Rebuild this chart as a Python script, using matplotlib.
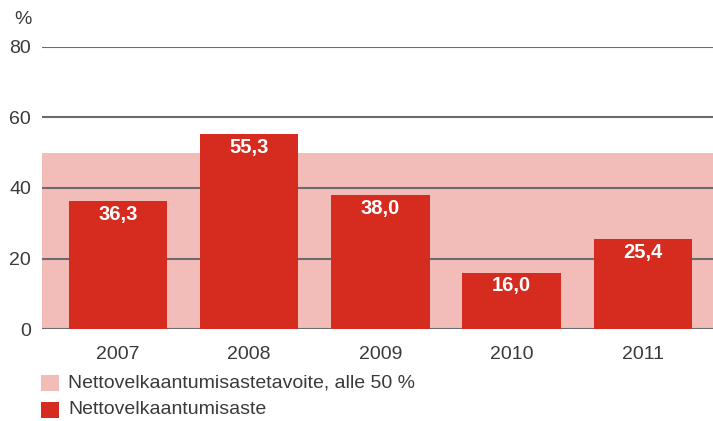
import matplotlib
matplotlib.use("Agg")
import matplotlib.pyplot as plt
from matplotlib.patches import Rectangle

years = ["2007", "2008", "2009", "2010", "2011"]
values = [36.3, 55.3, 38.0, 16.0, 25.4]
labels = ["36,3", "55,3", "38,0", "16,0", "25,4"]
target = 50
yticks = [0, 20, 40, 60, 80]
legend_labels = ["Nettovelkaantumisastetavoite, alle 50 %", "Nettovelkaantumisaste"]

RED = "#D62B1F"
PINK = "#F2BCB9"
GRID = "#6b6b6b"
TXT = "#3a3a3a"

plt.rcParams["font.family"] = ["Liberation Sans", "DejaVu Sans"]

W, H = 713, 421
fig = plt.figure(figsize=(W/100, H/100), dpi=100)
ax = fig.add_axes([42/W, 92/H, 1 - 42/W, 282/H])

x = list(range(len(years)))
ax.set_xlim(-0.578, 4.535)
ax.set_ylim(0, 80)
ax.axhspan(0, target, color=PINK, zorder=0, lw=0)
for t in yticks:
    ax.axhline(t, color=GRID, lw=1.5, zorder=1)
ax.bar(x, values, width=0.75, color=RED, zorder=2)
for xi, v, lab in zip(x, values, labels):
    ax.text(xi, v - 3.7, lab, ha="center", va="center", color="white",
            fontsize=14.5, fontweight="bold", zorder=3)

for s in ax.spines.values():
    s.set_visible(False)
ax.set_yticks(yticks)
ax.set_yticklabels([str(t) for t in yticks], fontsize=14, color=TXT)
ax.set_xticks(x)
ax.set_xticklabels(years, fontsize=14, color=TXT)
ax.tick_params(length=0)
ax.tick_params(axis="y", pad=8)
ax.tick_params(axis="x", pad=12)

fig.text(23/W, 1 - 19/H, "%", ha="center", va="center", fontsize=14, color=TXT)

# legend
leg_rows = [(383, PINK, legend_labels[0]), (410, RED, legend_labels[1])]
for yc, col, lab in leg_rows:
    fig.patches.append(Rectangle((41/W, 1 - (yc + 8)/H), 18/W, 16/H,
                                 transform=fig.transFigure, facecolor=col,
                                 edgecolor="none"))
    fig.text(68/W, 1 - yc/H, lab, ha="left", va="center", fontsize=14, color=TXT)

fig.savefig("out.png", dpi=100, facecolor="white")
